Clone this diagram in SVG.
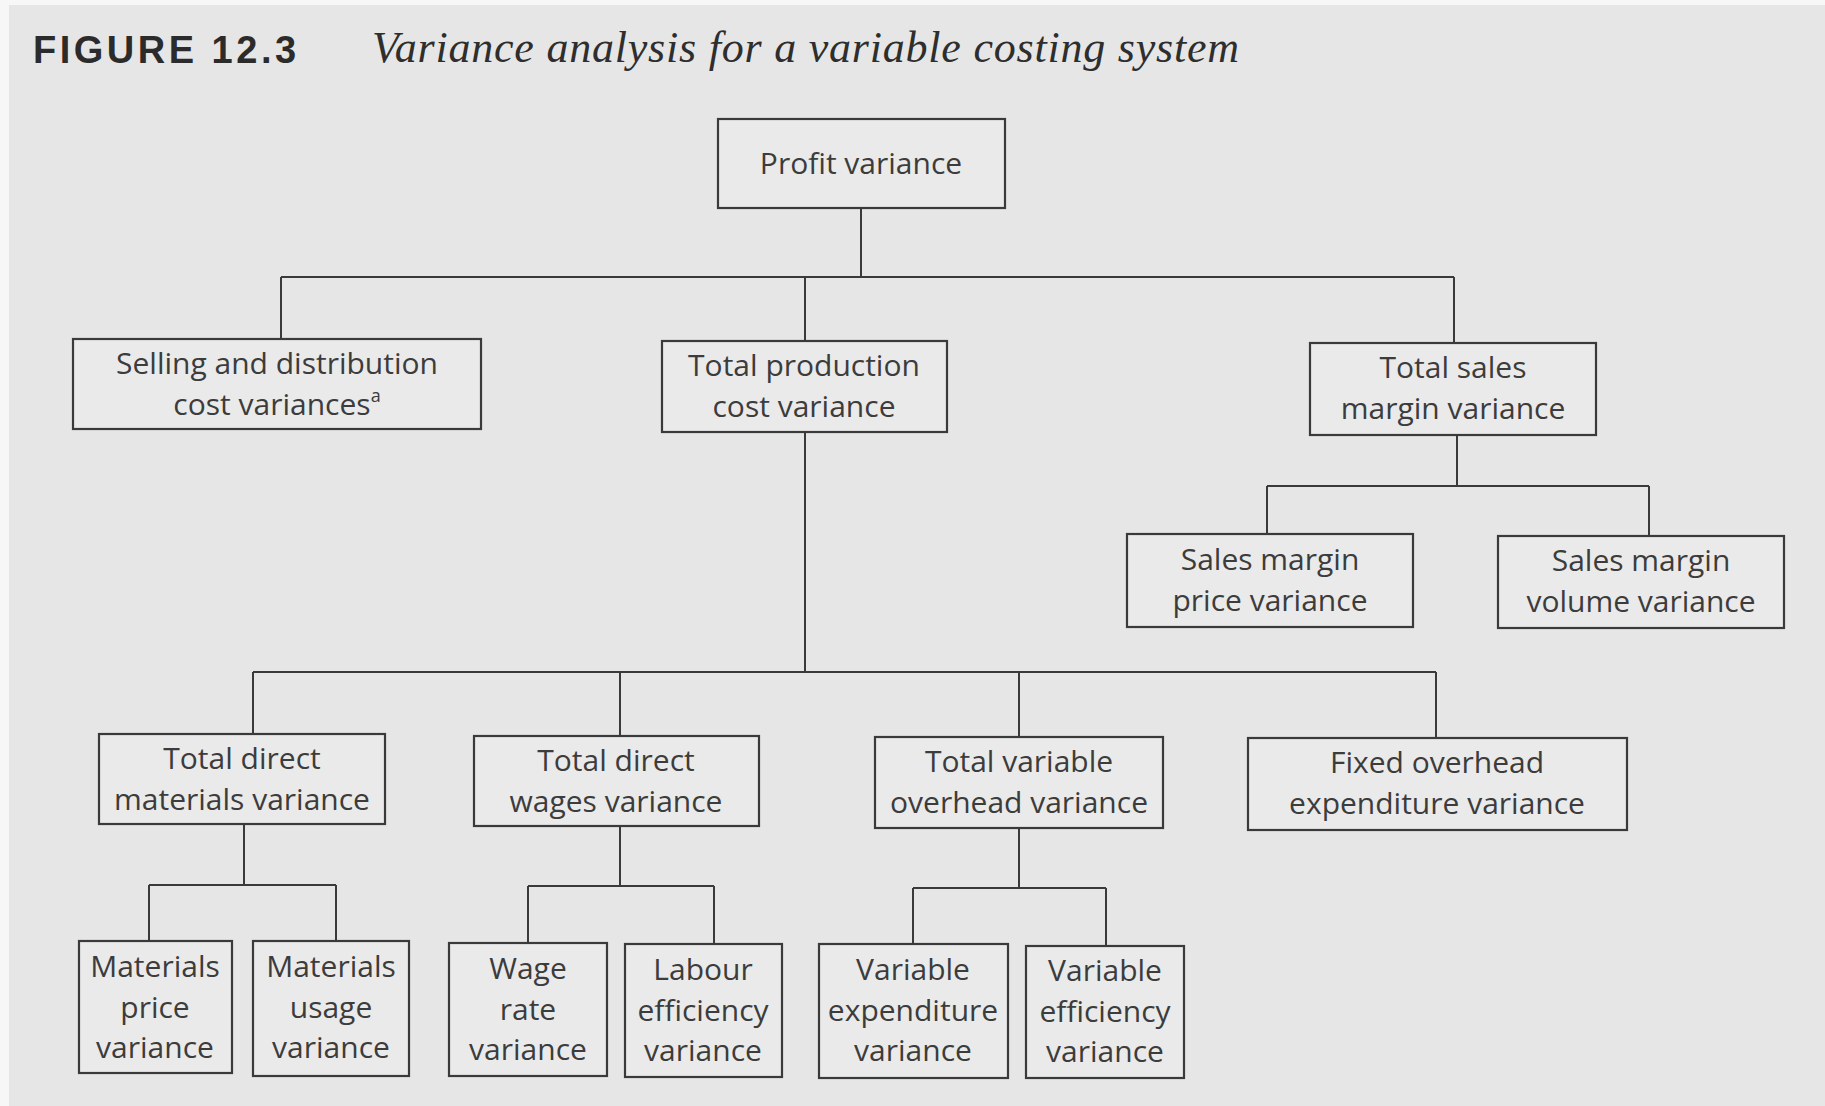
<svg xmlns="http://www.w3.org/2000/svg" width="1825" height="1106" viewBox="0 0 1825 1106">
  <style>
    .page { fill: #e6e6e6; }
    .box { fill: #eaeaea; stroke: #3a3a3a; stroke-width: 2.2; }
    .lbl { font-family: "Open Sans", "Liberation Sans", sans-serif; font-size: 30px; fill: #3c3c3c; text-anchor: middle; }
    .wire { fill: none; stroke: #3a3a3a; stroke-width: 2; }
    .fig { font-family: "Liberation Sans", Arial, sans-serif; font-weight: bold; font-size: 38px; letter-spacing: 3.5px; fill: #2b2b2b; }
    .cap { font-family: "Liberation Serif", "Times New Roman", serif; font-style: italic; font-size: 44px; fill: #2e2e2e; }
  </style>

  <!-- page -->
  <rect x="0" y="0" width="1825" height="1106" fill="#f7f7f7"/>
  <rect class="page" x="9" y="5" width="1816" height="1101"/>

  <!-- heading -->
  <text class="fig" x="33" y="63">FIGURE 12.3</text>
  <text class="cap" x="372" y="62" textLength="867">Variance analysis for a variable costing system</text>

  <!-- connectors -->
  <g id="connectors" class="wire">
    <!-- profit variance split -->
    <path d="M861 208 V277 M281 277 H1454 M281 277 V339 M805 277 V341 M1454 277 V343"/>
    <!-- sales margin split -->
    <path d="M1457 435 V486 M1267 486 H1649 M1267 486 V534 M1649 486 V536"/>
    <!-- production cost split -->
    <path d="M805 432 V672 M253 672 H1436 M253 672 V734 M620 672 V736 M1019 672 V737 M1436 672 V738"/>
    <!-- materials split -->
    <path d="M244 824 V885 M149 885 H336 M149 885 V941 M336 885 V941"/>
    <!-- wages split -->
    <path d="M620 826 V886 M528 886 H714 M528 886 V943 M714 886 V944"/>
    <!-- variable overhead split -->
    <path d="M1019 828 V888 M913 888 H1106 M913 888 V944 M1106 888 V946"/>
  </g>

  <g id="profit-variance">
    <rect class="box" x="718" y="119" width="287" height="89"/>
    <text class="lbl" x="861" y="174">Profit variance</text>
  </g>

  <g id="selling-distribution">
    <rect class="box" x="73" y="339" width="408" height="90"/>
    <text class="lbl" x="277" y="374">Selling and distribution</text>
    <text class="lbl" x="277" y="415">cost variances<tspan font-size="18" dy="-13">a</tspan></text>
  </g>

  <g id="total-production">
    <rect class="box" x="662" y="341" width="285" height="91"/>
    <text class="lbl" x="804" y="376">Total production</text>
    <text class="lbl" x="804" y="417">cost variance</text>
  </g>

  <g id="total-sales-margin">
    <rect class="box" x="1310" y="343" width="286" height="92"/>
    <text class="lbl" x="1453" y="378">Total sales</text>
    <text class="lbl" x="1453" y="419">margin variance</text>
  </g>

  <g id="sales-margin-price">
    <rect class="box" x="1127" y="534" width="286" height="93"/>
    <text class="lbl" x="1270" y="570">Sales margin</text>
    <text class="lbl" x="1270" y="611">price variance</text>
  </g>

  <g id="sales-margin-volume">
    <rect class="box" x="1498" y="536" width="286" height="92"/>
    <text class="lbl" x="1641" y="571">Sales margin</text>
    <text class="lbl" x="1641" y="612">volume variance</text>
  </g>

  <g id="direct-materials">
    <rect class="box" x="99" y="734" width="286" height="90"/>
    <text class="lbl" x="242" y="769">Total direct</text>
    <text class="lbl" x="242" y="810">materials variance</text>
  </g>

  <g id="direct-wages">
    <rect class="box" x="474" y="736" width="285" height="90"/>
    <text class="lbl" x="616" y="771">Total direct</text>
    <text class="lbl" x="616" y="812">wages variance</text>
  </g>

  <g id="variable-overhead">
    <rect class="box" x="875" y="737" width="288" height="91"/>
    <text class="lbl" x="1019" y="772">Total variable</text>
    <text class="lbl" x="1019" y="813">overhead variance</text>
  </g>

  <g id="fixed-overhead">
    <rect class="box" x="1248" y="738" width="379" height="92"/>
    <text class="lbl" x="1437" y="773">Fixed overhead</text>
    <text class="lbl" x="1437" y="814">expenditure variance</text>
  </g>

  <g id="materials-price">
    <rect class="box" x="79" y="941" width="153" height="132"/>
    <text class="lbl" x="155" y="977">Materials</text>
    <text class="lbl" x="155" y="1018">price</text>
    <text class="lbl" x="155" y="1058">variance</text>
  </g>

  <g id="materials-usage">
    <rect class="box" x="253" y="941" width="156" height="135"/>
    <text class="lbl" x="331" y="977">Materials</text>
    <text class="lbl" x="331" y="1018">usage</text>
    <text class="lbl" x="331" y="1058">variance</text>
  </g>

  <g id="wage-rate">
    <rect class="box" x="449" y="943" width="158" height="133"/>
    <text class="lbl" x="528" y="979">Wage</text>
    <text class="lbl" x="528" y="1020">rate</text>
    <text class="lbl" x="528" y="1060">variance</text>
  </g>

  <g id="labour-efficiency">
    <rect class="box" x="625" y="944" width="157" height="133"/>
    <text class="lbl" x="703" y="980">Labour</text>
    <text class="lbl" x="703" y="1021">efficiency</text>
    <text class="lbl" x="703" y="1061">variance</text>
  </g>

  <g id="variable-expenditure">
    <rect class="box" x="819" y="944" width="189" height="134"/>
    <text class="lbl" x="913" y="980">Variable</text>
    <text class="lbl" x="913" y="1021">expenditure</text>
    <text class="lbl" x="913" y="1061">variance</text>
  </g>

  <g id="variable-efficiency">
    <rect class="box" x="1026" y="946" width="158" height="132"/>
    <text class="lbl" x="1105" y="981">Variable</text>
    <text class="lbl" x="1105" y="1022">efficiency</text>
    <text class="lbl" x="1105" y="1062">variance</text>
  </g>
</svg>
